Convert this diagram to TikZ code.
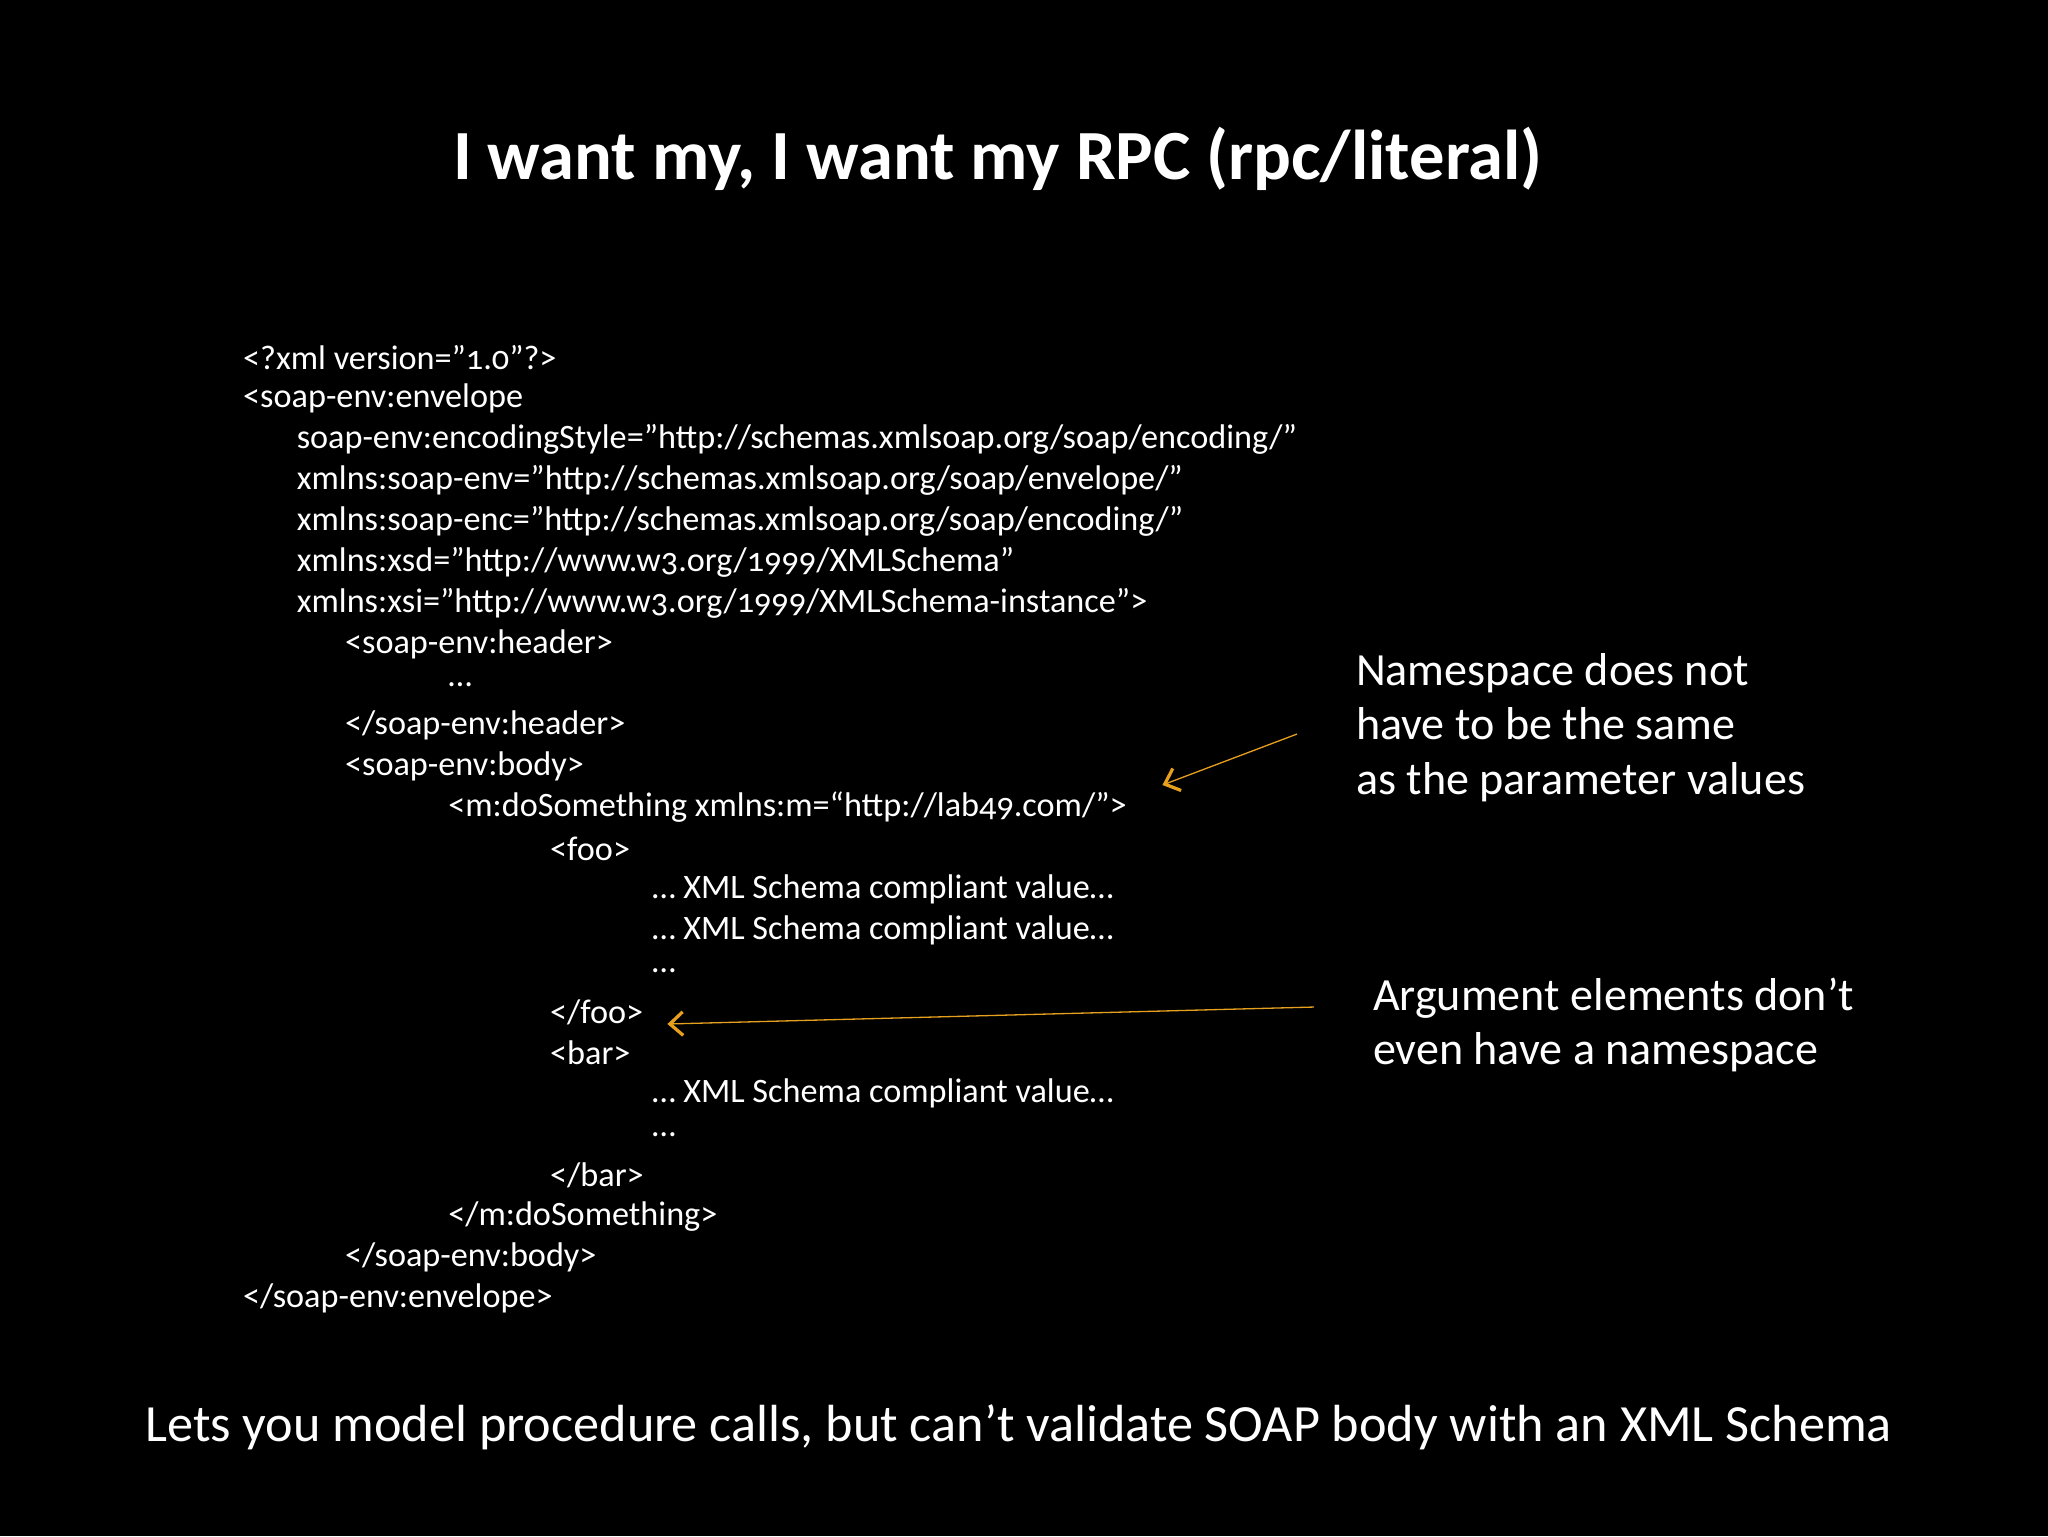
\documentclass[tikz,border=0pt]{standalone}
\usepackage{fontspec}
\setmainfont[Numbers=OldStyle,Ligatures=ResetAll]{Carlito}
\begin{document}
\begin{tikzpicture}[x=1pt,y=-1pt,
  code/.style={anchor=west,inner sep=0pt,text=white,font=\fontsize{26.2}{28}\selectfont},
  note/.style={anchor=west,inner sep=0pt,text=white,align=left,font=\fontsize{35.3}{41.5}\selectfont},
  arr/.style={draw={rgb,255:red,230;green,160;blue,30},line width=1pt,-{Straight Barb[length=10pt,width=18pt,line width=2.5pt]}}]
\usetikzlibrary{arrows.meta}
\fill[black] (0,0) rectangle (1568,1176);
\useasboundingbox (0,0) rectangle (1568,1176);
\node[text=white,font=\bfseries\fontsize{54}{58}\selectfont,inner sep=0pt] (title) at (764,122) {I want my, I want my RPC (rpc/literal)};
\foreach \i/\x/\t in {
0/186/{<?xml version="1.0"?>},
1/186/{<soap-env:envelope},
2/227/{soap-env:encodingStyle="http://schemas.xmlsoap.org/soap/encoding/"},
3/227/{xmlns:soap-env="http://schemas.xmlsoap.org/soap/envelope/"},
4/227/{xmlns:soap-enc="http://schemas.xmlsoap.org/soap/encoding/"},
5/227/{xmlns:xsd="http://www.w3.org/1999/XMLSchema"},
6/227/{xmlns:xsi="http://www.w3.org/1999/XMLSchema-instance">},
7/264/{<soap-env:header>},
8/343/{…},
9/264/{</soap-env:header>},
10/264/{<soap-env:body>},
11/343/{<m:doSomething xmlns:m=“http://lab49.com/”>},
12/421/{<foo>},
13/499/{… XML Schema compliant value…},
14/499/{… XML Schema compliant value…},
15/499/{…},
16/421/{</foo>},
17/421/{<bar>},
18/499/{… XML Schema compliant value…},
19/499/{…},
20/421/{</bar>},
21/343/{</m:doSomething>},
22/264/{</soap-env:body>},
23/186/{</soap-env:envelope>}}
{\node[code] (l\i) at (\x,{274+31.3*\i}) {\t};}
\node[note] (n1) at (1038,557) {Namespace does not\\have to be the same\\as the parameter values};
\node[note] (n2) at (1051,785) {Argument elements don’t\\even have a namespace};
\coordinate (a1s) at (993,562); \coordinate (a1e) at (890,601);
\coordinate (a2s) at (1006,771); \coordinate (a2e) at (511,784);
\draw[arr] (a1s) -- (a1e);
\draw[arr] (a2s) -- (a2e);
\node[text=white,font=\fontsize{40}{44}\selectfont,inner sep=0pt] (bottom) at (780,1093) {Lets you model procedure calls, but can’t validate SOAP body with an XML Schema};
\end{tikzpicture}
\end{document}
